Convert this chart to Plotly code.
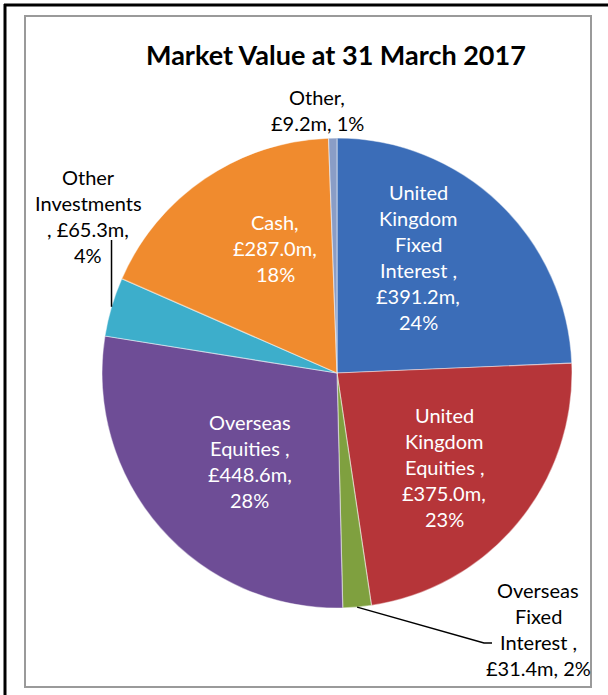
import plotly.graph_objects as go
import math

# ---- data ----
categories = ["United Kingdom Fixed Interest", "United Kingdom Equities",
              "Overseas Fixed Interest", "Overseas Equities",
              "Other Investments", "Cash", "Other"]
values_m = [391.2, 375.0, 31.4, 448.6, 65.3, 287.0, 9.2]
colors = ["#3B6DB8", "#B63539", "#7FA03F", "#6E4D96", "#3DAECB", "#F08B2E", "#8A9DC6"]

# label line breaks (text layout), one list per slice
label_head = [["United", "Kingdom", "Fixed", "Interest ,"],
              ["United", "Kingdom", "Equities ,"],
              ["Overseas", "Fixed", "Interest ,"],
              ["Overseas", "Equities ,"],
              ["Other", "Investments"],
              ["Cash,"],
              ["Other,"]]
# label layout: pixel centre, text colour
label_pos = [(418, 257), (444, 467), (538, 629), (250, 461), (88, 216), (275, 248), (317, 110)]
label_col = ["white", "white", "black", "white", "black", "white", "black"]

W, H = 608, 695
total = sum(values_m)
pcts = [round(v / total * 100) for v in values_m]

def px(x):
    return x / W

def py(y):
    return 1 - y / H

# pie geometry (pixels)
CX, CY, R = 337, 373, 235

fig = go.Figure(go.Pie(
    labels=categories, values=values_m, sort=False, direction="clockwise",
    rotation=0, textinfo="none", hoverinfo="label+value+percent",
    marker=dict(colors=colors, line=dict(color="rgba(255,255,255,0.45)", width=1.2)),
    domain=dict(x=[px(CX - R), px(CX + R)], y=[py(CY + R), py(CY - R)]),
    showlegend=False,
))

annotations = []
LS = 26
for i, head in enumerate(label_head):
    v, p = values_m[i], pcts[i]
    if i == 2:
        lines = head + [f"£{v:.1f}m, {p}%"]
    elif i == 4:
        lines = head + [f", £{v:.1f}m,", f"{p}%"]
    elif i == 6:
        lines = head + [f"£{v:.1f}m, {p}%"]
    else:
        lines = head + [f"£{v:.1f}m,", f"{p}%"]
    cx, cy = label_pos[i]
    n = len(lines)
    for k, line in enumerate(lines):
        yy = cy + (k - (n - 1) / 2) * LS
        annotations.append(dict(x=px(cx), y=py(yy), xref="paper", yref="paper",
                                text=line, showarrow=False, xanchor="center", yanchor="middle",
                                font=dict(family="Lato", size=20, color=label_col[i])))

annotations.append(dict(x=px(336), y=py(55), xref="paper", yref="paper",
                        text="<b>Market Value at 31 March 2017</b>", showarrow=False,
                        xanchor="center", yanchor="middle",
                        font=dict(family="Lato", size=27, color="black")))

# leader lines start at slice mid-angle on the pie edge
cum = 0
mids = []
for v in values_m:
    mids.append((cum + v / 2) / total * 360)
    cum += v

def edge(i):
    a = math.radians(mids[i])
    return CX + R * math.sin(a), CY - R * math.cos(a)

shapes = []
# frames
shapes.append(dict(type="line", xref="paper", yref="paper", x0=px(4), y0=py(5), x1=1, y1=py(5),
                   line=dict(color="black", width=3)))
shapes.append(dict(type="line", xref="paper", yref="paper", x0=px(5), y0=py(4), x1=px(5), y1=0,
                   line=dict(color="black", width=3)))
shapes.append(dict(type="rect", xref="paper", yref="paper", x0=px(25), y0=py(687), x1=px(591), y1=py(16),
                   line=dict(color="#9A9A9A", width=2)))
# Other Investments leader
ex, ey = edge(4)
shapes.append(dict(type="path", xref="paper", yref="paper",
                   path=f"M {px(ex)},{py(ey)} L {px(ex)},{py(240)}",
                   line=dict(color="black", width=1.5)))
# Overseas Fixed Interest leader
ex, ey = edge(2)
shapes.append(dict(type="path", xref="paper", yref="paper",
                   path=f"M {px(ex)},{py(ey)} L {px(484)},{py(643)} L {px(492)},{py(643)}",
                   line=dict(color="black", width=1.5)))

fig.update_layout(width=W, height=H, margin=dict(l=0, r=0, t=0, b=0),
                  paper_bgcolor="white", plot_bgcolor="white",
                  annotations=annotations, shapes=shapes)
fig.write_html("out.html", config={"displayModeBar": False},
               post_script="document.body.style.margin='0';document.body.style.overflow='hidden';")
